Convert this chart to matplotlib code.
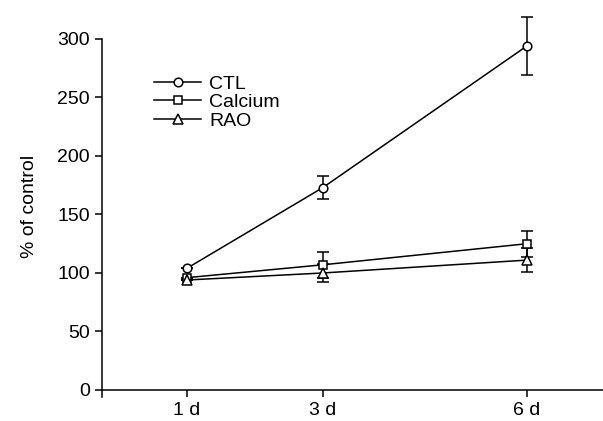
import matplotlib
matplotlib.use("Agg")
import matplotlib.pyplot as plt

plt.rcParams['font.family'] = ['Liberation Sans', 'DejaVu Sans']

# data
days = [1, 3, 6]
day_labels = ["1 d", "3 d", "6 d"]
ctl = [104, 173, 294]
ctl_err = [0, 10, 25]
calcium = [96, 107, 125]
calcium_err = [0, 11, 11]
rao = [94, 100, 111]
rao_err = [0, 8, 10]

fig = plt.figure(figsize=(6.03, 4.21), dpi=100)
ax = fig.add_axes([0.169, 0.057, 0.831, 0.906])

series = [
    ("CTL", ctl, ctl_err, "o", 6.2),
    ("Calcium", calcium, calcium_err, "s", 5.5),
    ("RAO", rao, rao_err, "^", 6.5),
]
handles = []
for name, vals, err, mk, ms in series:
    cont = ax.errorbar(days, vals, yerr=err, color="black", lw=1.1, marker=mk,
                       ms=ms, mfc="white", mec="black", mew=1.1,
                       capsize=4.3, capthick=1.1, elinewidth=1.1, label=name)
    handles.append(cont.lines[0])

ax.set_xlim(-0.25, 7.12)
ax.set_ylim(-6, 320)
ax.set_xticks(days)
ax.set_xticklabels(day_labels)
ax.set_yticks(range(0, 301, 50))
ax.tick_params(direction="out", length=5, width=1.1, labelsize=14)

for s in ["top", "right"]:
    ax.spines[s].set_visible(False)
ax.spines["bottom"].set_position(("data", 0))
ax.spines["left"].set_bounds(-6, 300)
for s in ["left", "bottom"]:
    ax.spines[s].set_linewidth(1.1)

ax.set_ylabel("% of control", fontsize=14, labelpad=14)

ax.legend(handles, [s[0] for s in series], frameon=False, loc="upper left",
          bbox_to_anchor=(0.07, 0.89), fontsize=14, handlelength=2.4,
          labelspacing=0.05, handletextpad=0.4)

fig.savefig("out.png", dpi=100)
